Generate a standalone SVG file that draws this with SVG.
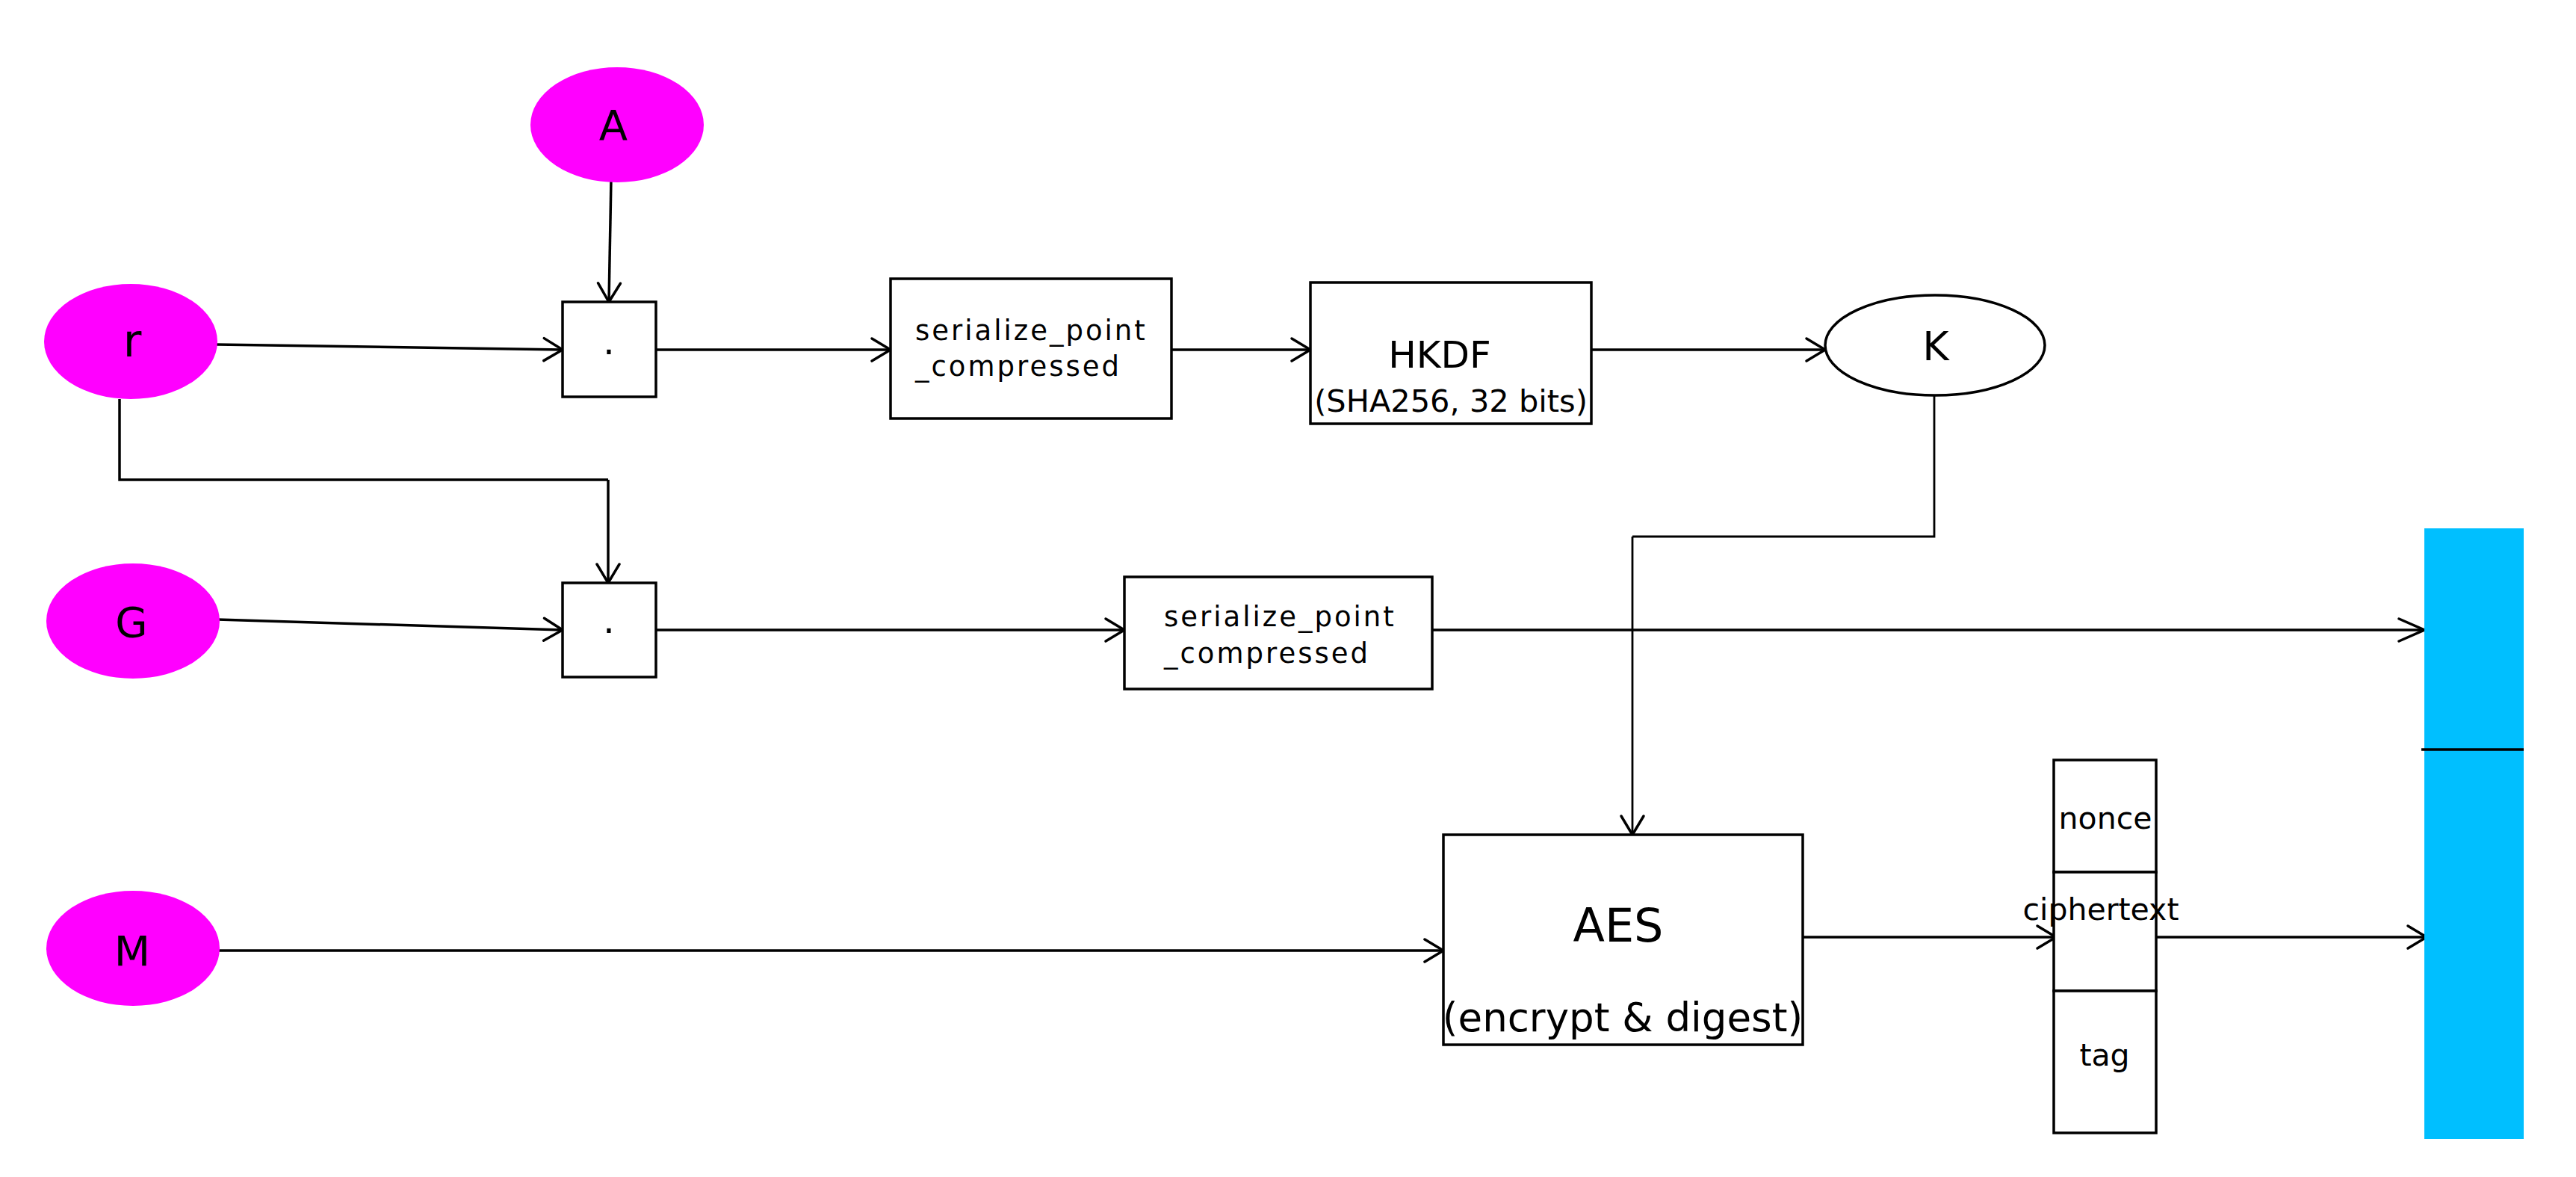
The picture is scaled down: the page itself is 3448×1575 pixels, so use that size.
<svg xmlns="http://www.w3.org/2000/svg" width="3448" height="1575" viewBox="0 0 3448 1575">
<style>
text{font-family:"DejaVu Sans","Liberation Sans",sans-serif;fill:#000}
.in{fill:#FF00FF;stroke:none}
.box{fill:#fff;stroke:#000;stroke-width:3.5}
.c{fill:none;stroke:#000;stroke-width:3.5}
.t{fill:none;stroke:#000;stroke-width:2.8}
.big{font-size:56px;text-anchor:middle}
.ser{font-size:37px;letter-spacing:3px}
.sm{font-size:41px;text-anchor:middle}
</style>
<defs>
<marker id="ah" markerUnits="userSpaceOnUse" viewBox="-30 -20 34 40" refX="0" refY="0" markerWidth="34" markerHeight="40" orient="auto">
<path d="M-25,-15 L0,0 L-25,15" fill="none" stroke="#000" stroke-width="3.5" stroke-linecap="round" stroke-linejoin="miter"/>
</marker>
<marker id="ahb" markerUnits="userSpaceOnUse" viewBox="-40 -20 44 40" refX="0" refY="0" markerWidth="44" markerHeight="40" orient="auto">
<path d="M-34,-15 L0,0 L-34,15" fill="none" stroke="#000" stroke-width="3.5" stroke-linecap="round"/>
</marker>
</defs>
<rect width="3448" height="1575" fill="#fff"/>
<g id="connectors">
<line class="c" x1="818" y1="239" x2="815" y2="404" marker-end="url(#ah)"/>
<line class="c" x1="290" y1="461" x2="753" y2="468" marker-end="url(#ah)"/>
<polyline class="c" points="160,534 160,642 814,642"/>
<line class="c" x1="814" y1="642" x2="814" y2="780" marker-end="url(#ah)"/>
<line class="c" x1="291" y1="829" x2="753" y2="843" marker-end="url(#ah)"/>
<line class="c" x1="878" y1="468" x2="1192" y2="468" marker-end="url(#ah)"/>
<line class="c" x1="1568" y1="468" x2="1754" y2="468" marker-end="url(#ah)"/>
<line class="c" x1="2130" y1="468" x2="2443" y2="468" marker-end="url(#ah)"/>
<polyline class="t" points="2589,530 2589,718 2185,718"/>
<line class="t" x1="2185" y1="718" x2="2185" y2="1117" marker-end="url(#ah)"/>
<line class="c" x1="878" y1="843" x2="1505" y2="843" marker-end="url(#ah)"/>
<line class="c" x1="1917" y1="843" x2="3245" y2="843" marker-end="url(#ahb)"/>
<line class="c" x1="293" y1="1272" x2="1932" y2="1272" marker-end="url(#ah)"/>
<line class="c" x1="2413" y1="1254" x2="2752" y2="1254" marker-end="url(#ah)"/>
<line class="c" x1="2886" y1="1254" x2="3248" y2="1254" marker-end="url(#ah)"/>
</g>
<g id="A"><ellipse class="in" cx="826" cy="167" rx="116" ry="77"/><text class="big" x="821" y="187">A</text></g>
<g id="r"><ellipse class="in" cx="175" cy="457" rx="116" ry="77"/><text class="big" x="177" y="477" style="font-size:60px">r</text></g>
<g id="G"><ellipse class="in" cx="178" cy="831" rx="116" ry="77"/><text class="big" x="176" y="852">G</text></g>
<g id="M"><ellipse class="in" cx="178" cy="1269" rx="116" ry="77"/><text class="big" x="177" y="1292">M</text></g>
<g id="mul1"><rect class="box" x="753" y="404" width="125" height="127"/><text class="big" x="815" y="488" style="font-size:50px">·</text></g>
<g id="mul2"><rect class="box" x="753" y="780" width="125" height="126"/><text class="big" x="815" y="861" style="font-size:50px">·</text></g>
<g id="ser1"><rect class="box" x="1192" y="373" width="376" height="187"/><text class="ser" x="1225" y="455">serialize_point</text><text class="ser" x="1225" y="503">_compressed</text></g>
<g id="ser2"><rect class="box" x="1505" y="772" width="412" height="150"/><text class="ser" x="1558" y="838">serialize_point</text><text class="ser" x="1558" y="887">_compressed</text></g>
<g id="hkdf"><rect class="box" x="1754" y="378" width="376" height="189"/><text x="1927" y="492" style="font-size:50px;text-anchor:middle">HKDF</text><text x="1942" y="551" style="font-size:41.5px;text-anchor:middle">(SHA256, 32 bits)</text></g>
<g id="K"><ellipse cx="2590" cy="462" rx="147" ry="67" fill="#fff" stroke="#000" stroke-width="3.5"/><text class="big" x="2591" y="482" style="font-size:54px">K</text></g>
<g id="aes"><rect class="box" x="1932" y="1117" width="481" height="281"/><text x="2166" y="1260" style="font-size:62px;text-anchor:middle">AES</text><text x="2172" y="1380" style="font-size:53px;text-anchor:middle">(encrypt &amp; digest)</text></g>
<g id="packet">
<rect class="box" x="2749" y="1017" width="137" height="150"/>
<rect class="box" x="2749" y="1167" width="137" height="159"/>
<rect class="box" x="2749" y="1326" width="137" height="190"/>
<text class="sm" x="2818" y="1109">nonce</text>
<text class="sm" x="2812" y="1231">ciphertext</text>
<text class="sm" x="2817" y="1426">tag</text>
</g>
<g id="output">
<rect x="3245" y="707" width="133" height="817" fill="#00BFFF"/>
<line x1="3241" y1="1003" x2="3378" y2="1003" stroke="#000" stroke-width="3.5"/>
</g>
</svg>
